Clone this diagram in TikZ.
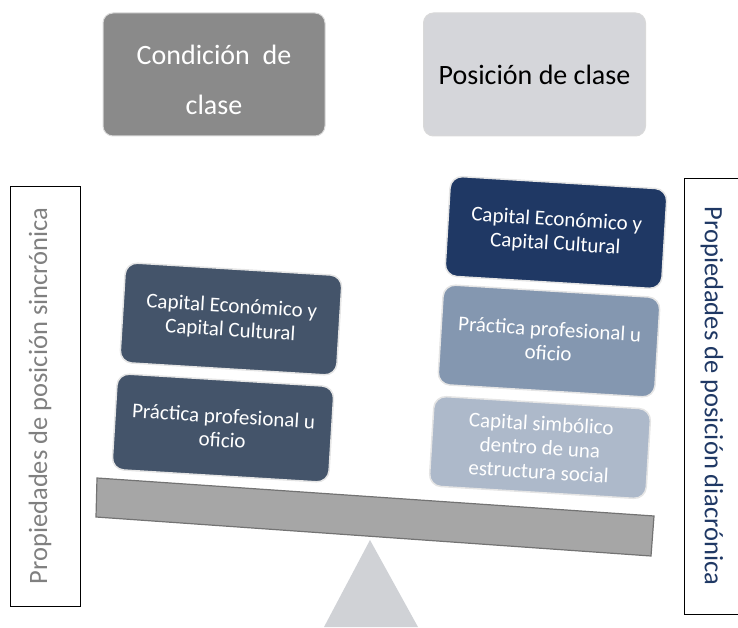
\documentclass[tikz,border=0pt]{standalone}
\usepackage{fontspec}
\setmainfont{Carlito}
\definecolor{grisosc}{HTML}{8A8A8A}
\definecolor{grisclaro}{HTML}{D5D6DA}
\definecolor{pizarra}{HTML}{44546A}
\definecolor{marino}{HTML}{1F3864}
\definecolor{azulmed}{HTML}{8497B0}
\definecolor{azulclaro}{HTML}{ADB9CA}
\definecolor{barra}{HTML}{A6A6A6}
\definecolor{apoyo}{HTML}{D0D2D6}
\tikzset{
  titulo/.style={rounded corners=10pt, draw=white!85!black, line width=1pt,
    minimum width=222pt, minimum height=123pt, align=center,
    font=\fontsize{28}{50}\selectfont},
  caja/.style={rounded corners=12pt, draw=white!90!black, line width=1.5pt,
    text=white, align=center, minimum width=217pt, minimum height=100pt,
    rotate=-3.5, inner sep=0pt, font=\fontsize{21}{24}\selectfont},
  lateral/.style={draw=black, line width=0.6pt, inner sep=0pt,
    font=\fontsize{26.5}{30}\selectfont}
}
\begin{document}
\begin{tikzpicture}[x=1pt,y=1pt]
\useasboundingbox (0,0) rectangle (738,627);
% titulos
\node[titulo, fill=grisosc, text=white] (cond) at (214,552.5) {\rule{0pt}{30pt}Condición\ \ de\\clase};
\node[titulo, fill=grisclaro, text=black] (pos) at (534.5,552.5) {Posición de clase};
% laterales
\node[lateral, text=gray, rotate=90, minimum width=420pt, minimum height=70pt,
  text height=20pt, text depth=16pt] (sinc) at (45,231) {Propiedades de posición sincrónica};
\node[lateral, text=marino, rotate=-90, minimum width=436pt, minimum height=56pt] (diac) at (712,231) {Propiedades de posición diacrónica};
% balanza
\fill[apoyo] (370,87) -- (418,0) -- (324,0) -- cycle;
\draw[fill=barra, draw=black!55, line width=1.2pt] (97,149) -- (654,111) -- (651,71) -- (96,110) -- cycle;
% izquierda
\node[caja, fill=pizarra] (lcap) at (231,308) {Capital Económico y\\Capital Cultural};
\node[caja, fill=pizarra, minimum height=96pt] (lprac) at (223,199) {Práctica profesional u\\oficio};
% derecha
\node[caja, fill=marino] (rcap) at (556,394.5) {Capital Económico y\\Capital Cultural};
\node[caja, fill=azulmed] (rprac) at (549,286) {Práctica profesional u\\oficio};
\node[caja, fill=azulclaro, minimum height=90pt] (rsimb) at (540,179.5) {Capital simbólico\\dentro de una\\estructura social};
\end{tikzpicture}
\end{document}
